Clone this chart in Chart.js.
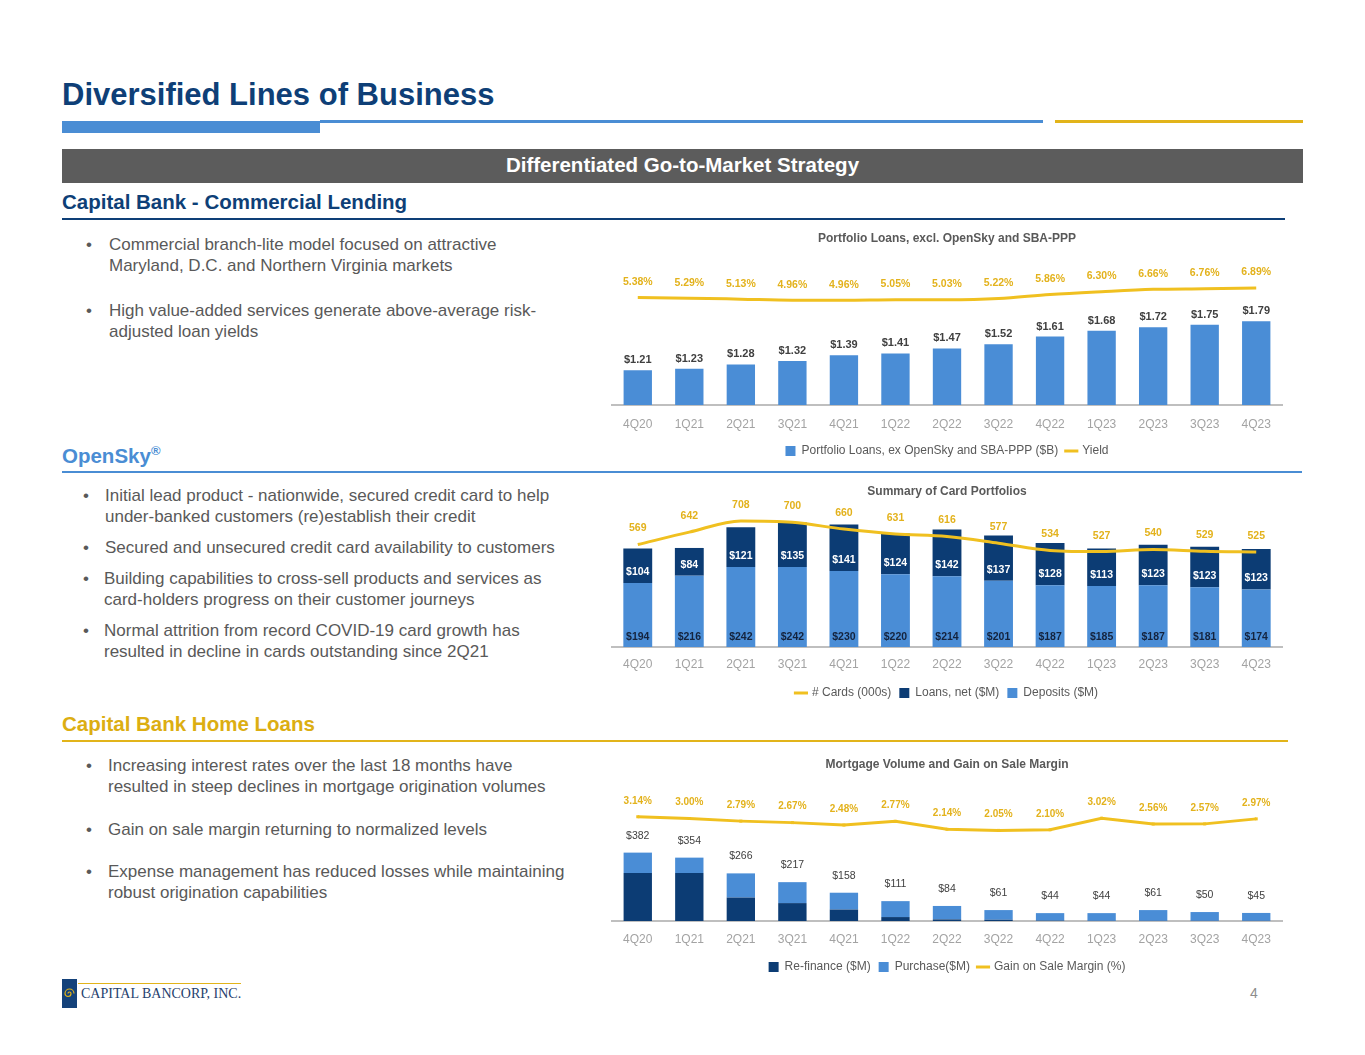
<!DOCTYPE html>
<html><head><meta charset="utf-8">
<script src="https://cdn.jsdelivr.net/npm/chart.js@4.4.1/dist/chart.umd.min.js"></script>
<style>
html,body{margin:0;padding:0;background:#fff}
body{width:1365px;height:1055px;position:relative;overflow:hidden;font-family:"Liberation Sans",Arial,sans-serif}
.a{position:absolute;white-space:nowrap}
.blk{position:absolute}
.bul{position:absolute;font-size:17px;line-height:21px;color:#595959;white-space:nowrap}
.hdr{position:absolute;font-weight:bold;font-size:20.5px;line-height:24px;white-space:nowrap}
canvas{position:absolute}
</style>
</head><body>
<div class="a" style="left:62px;top:77px;font-size:31px;line-height:36px;font-weight:bold;color:#0e3f77">Diversified Lines of Business</div>
<div class="blk" style="left:62px;top:121px;width:258px;height:12px;background:#4a8dd4"></div>
<div class="blk" style="left:320px;top:120px;width:723px;height:3px;background:#4a8dd4"></div>
<div class="blk" style="left:1055px;top:120px;width:248px;height:3px;background:#e2b41a"></div>
<div class="blk" style="left:62px;top:149px;width:1241px;height:34px;background:#5c5c5c"></div>
<div class="a" style="left:62px;width:1241px;top:153px;text-align:center;font-size:20.5px;line-height:24px;font-weight:bold;color:#fff">Differentiated Go-to-Market Strategy</div>

<div class="hdr" style="left:62px;top:190px;color:#0e3f77">Capital Bank - Commercial Lending</div>
<div class="blk" style="left:62px;top:218px;width:1223px;height:2px;background:#0e3f77"></div>
<div class="bul" style="left:86px;top:234px">•</div>
<div class="bul" style="left:109px;top:234px">Commercial branch-lite model focused on attractive<br>Maryland, D.C. and Northern Virginia markets</div>
<div class="bul" style="left:86px;top:300px">•</div>
<div class="bul" style="left:109px;top:300px">High value-added services generate above-average risk-<br>adjusted loan yields</div>

<div class="hdr" style="left:62px;top:444px;color:#4a8dd4">OpenSky<sup style="font-size:13px;vertical-align:top;line-height:14px">®</sup></div>
<div class="blk" style="left:62px;top:471px;width:1240px;height:2px;background:#4a8dd4"></div>
<div class="bul" style="left:83px;top:485px">•</div>
<div class="bul" style="left:105px;top:485px">Initial lead product - nationwide, secured credit card to help<br>under-banked customers (re)establish their credit</div>
<div class="bul" style="left:83px;top:537px">•</div>
<div class="bul" style="left:105px;top:537px">Secured and unsecured credit card availability to customers</div>
<div class="bul" style="left:83px;top:568px">•</div>
<div class="bul" style="left:104px;top:568px">Building capabilities to cross-sell products and services as<br>card-holders progress on their customer journeys</div>
<div class="bul" style="left:83px;top:620px">•</div>
<div class="bul" style="left:104px;top:620px">Normal attrition from record COVID-19 card growth has<br>resulted in decline in cards outstanding since 2Q21</div>

<div class="hdr" style="left:62px;top:712px;color:#dcae12">Capital Bank Home Loans</div>
<div class="blk" style="left:62px;top:740px;width:1226px;height:2px;background:#e2b41a"></div>
<div class="bul" style="left:86px;top:755px">•</div>
<div class="bul" style="left:108px;top:755px">Increasing interest rates over the last 18 months have<br>resulted in steep declines in mortgage origination volumes</div>
<div class="bul" style="left:86px;top:819px">•</div>
<div class="bul" style="left:108px;top:819px">Gain on sale margin returning to normalized levels</div>
<div class="bul" style="left:86px;top:861px">•</div>
<div class="bul" style="left:108px;top:861px">Expense management has reduced losses while maintaining<br>robust origination capabilities</div>

<div class="blk" style="left:62px;top:979px;width:15px;height:29px;background:#14427a"></div>
<svg class="blk" style="left:62px;top:979px" width="15" height="29" viewBox="0 0 15 29"><path d="M7.5 14.5 m-1.5 0 a1.5 1.5 0 1 1 3 0 a3 3 0 1 1 -6 0 a4.5 4.5 0 1 1 9 0" fill="none" stroke="#e2b41a" stroke-width="1.2"/></svg>
<div class="blk" style="left:78px;top:983px;width:163px;height:1px;background:#e2b41a"></div>
<div class="a" style="left:81px;top:986px;font-family:'Liberation Serif',serif;font-size:14px;line-height:16px;color:#1f3f6e">CAPITAL BANCORP, INC.</div>
<div class="a" style="left:1250px;top:985px;font-size:14px;line-height:16px;color:#8c8c8c">4</div>

<canvas id="c1" style="left:590px;top:228px;width:700px;height:240px" width="700" height="240"></canvas>
<canvas id="c2" style="left:590px;top:480px;width:700px;height:232px" width="700" height="232"></canvas>
<canvas id="c3" style="left:590px;top:752px;width:700px;height:232px" width="700" height="232"></canvas>

<script>
// ---- data ----
const quarters = ['4Q20','1Q21','2Q21','3Q21','4Q21','1Q22','2Q22','3Q22','4Q22','1Q23','2Q23','3Q23','4Q23'];
const loanBalances = [1.21,1.23,1.28,1.32,1.39,1.41,1.47,1.52,1.61,1.68,1.72,1.75,1.79];
const loanYields = [5.38,5.29,5.13,4.96,4.96,5.05,5.03,5.22,5.86,6.30,6.66,6.76,6.89];
const cardCounts = [569,642,708,700,660,631,616,577,534,527,540,529,525];
const cardLoans = [104,84,121,135,141,124,142,137,128,113,123,123,123];
const cardDeposits = [194,216,242,242,230,220,214,201,187,185,187,181,174];
const mortgageRefi = [268,268,131,100,64,22,9,7,2,1,1,1,1];
const mortgagePurchase = [114,86,135,117,94,89,75,54,42,43,60,49,44];
const mortgageTotals = [382,354,266,217,158,111,84,61,44,44,61,50,45];
const gainOnSaleMargin = [3.14,3.00,2.79,2.67,2.48,2.77,2.14,2.05,2.10,3.02,2.56,2.57,2.97];

const NAVY='#0c3c74', BLUE='#4a8dd6', GOLD='#f0c020', GOLDTXT='#e3b21c';
const FONT='"Liberation Sans", Arial, sans-serif';

function labelPlugin(cfgs){
  return {id:'vlabels',afterDatasetsDraw(chart){
    const ctx=chart.ctx;
    cfgs.forEach(c=>{
      const meta=chart.getDatasetMeta(c.ds);
      ctx.save();
      ctx.font=c.font; ctx.fillStyle=c.color; ctx.textAlign='center'; ctx.textBaseline='middle';
      meta.data.forEach((el,j)=>{
        const y = c.anchor==='base' ? el.base + c.offset : el.y + c.offset;
        ctx.fillText(c.text(j), el.x, y);
      });
      ctx.restore();
    });
  }};
}

function xAxis(pad, h){
  return {grid:{display:false,drawTicks:false},border:{display:true,color:'#bfbfbf',width:2},
    ticks:{color:'#a3a3a3',padding:pad,font:{family:FONT,size:12,lineHeight:1.2}},
    afterFit(s){ s.height=h; }};
}
function legendOpts(){
  return {position:'bottom',labels:{usePointStyle:true,boxWidth:10,boxHeight:10,padding:8,color:'#595959',
    font:{family:FONT,size:12,lineHeight:1.2},
    sort:(a,b,data)=>data.datasets[a.datasetIndex].legendRank-data.datasets[b.datasetIndex].legendRank}};
}
function titleOpts(text,pt,pb){
  return {display:true,text,color:'#595959',font:{family:FONT,size:12,weight:'bold',lineHeight:1.2},padding:{top:pt,bottom:pb}};
}
Chart.defaults.animation=false;
Chart.defaults.font.family=FONT;

new Chart(document.getElementById('c1'),{
  type:'bar',
  data:{labels:quarters,datasets:[
    {type:'line',label:'Yield',data:loanYields,yAxisID:'y2',borderColor:GOLD,backgroundColor:GOLD,borderWidth:3,
     pointRadius:0,cubicInterpolationMode:'monotone',order:0,legendRank:2,pointStyle:'line'},
    {label:'Portfolio Loans, ex OpenSky and SBA-PPP ($B)',data:loanBalances,yAxisID:'y',backgroundColor:BLUE,
     categoryPercentage:1,barPercentage:0.55,order:1,legendRank:1,pointStyle:'rect'}
  ]},
  options:{responsive:false,animation:false,layout:{padding:{left:22,right:8,top:0,bottom:1}},
    plugins:{title:titleOpts('Portfolio Loans, excl. OpenSky and SBA-PPP',3.8,11.8),legend:legendOpts(),tooltip:{enabled:false}},
    scales:{x:xAxis(12.8,32),y:{display:false,min:0.8,max:2.54},y2:{display:false,min:-11.41,max:11.56}}},
  plugins:[labelPlugin([
    {ds:1,anchor:'top',offset:-10,font:'bold 11px '+FONT,color:'#404040',text:j=>'$'+loanBalances[j].toFixed(2)},
    {ds:0,anchor:'top',offset:-15.5,font:'bold 10.5px '+FONT,color:GOLDTXT,text:j=>loanYields[j].toFixed(2)+'%'}
  ])]
});

new Chart(document.getElementById('c2'),{
  type:'bar',
  data:{labels:quarters,datasets:[
    {type:'line',label:'# Cards (000s)',data:cardCounts,yAxisID:'y2',borderColor:GOLD,backgroundColor:GOLD,borderWidth:3,
     pointRadius:0,cubicInterpolationMode:'monotone',order:0,legendRank:1,pointStyle:'line'},
    {label:'Deposits ($M)',data:cardDeposits,yAxisID:'y',backgroundColor:BLUE,stack:'s',
     categoryPercentage:1,barPercentage:0.56,order:1,legendRank:3,pointStyle:'rect'},
    {label:'Loans, net ($M)',data:cardLoans,yAxisID:'y',backgroundColor:NAVY,stack:'s',
     categoryPercentage:1,barPercentage:0.56,order:1,legendRank:2,pointStyle:'rect'}
  ]},
  options:{responsive:false,animation:false,layout:{padding:{left:22,right:8,top:0,bottom:3}},
    plugins:{title:titleOpts('Summary of Card Portfolios',4.8,10.8),legend:legendOpts(),tooltip:{enabled:false}},
    scales:{x:Object.assign(xAxis(10.8,32),{stacked:true}),y:{display:false,stacked:true,min:0,max:415},y2:{display:false,min:-36,max:772.7}}},
  plugins:[labelPlugin([
    {ds:1,anchor:'base',offset:-10,font:'bold 10.5px '+FONT,color:'#14233d',text:j=>'$'+cardDeposits[j]},
    {ds:2,anchor:'base',offset:-11,font:'bold 10.5px '+FONT,color:'#ffffff',text:j=>'$'+cardLoans[j]},
    {ds:0,anchor:'top',offset:-16,font:'bold 10.5px '+FONT,color:GOLDTXT,text:j=>String(cardCounts[j])}
  ])]
});

new Chart(document.getElementById('c3'),{
  type:'bar',
  data:{labels:quarters,datasets:[
    {type:'line',label:'Gain on Sale Margin (%)',data:gainOnSaleMargin,yAxisID:'y2',borderColor:GOLD,backgroundColor:GOLD,borderWidth:3,
     pointRadius:1.5,pointBackgroundColor:GOLD,tension:0,order:0,legendRank:3,pointStyle:'line'},
    {label:'Re-finance ($M)',data:mortgageRefi,yAxisID:'y',backgroundColor:NAVY,stack:'s',
     categoryPercentage:1,barPercentage:0.55,order:1,legendRank:1,pointStyle:'rect'},
    {label:'Purchase($M)',data:mortgagePurchase,yAxisID:'y',backgroundColor:BLUE,stack:'s',
     categoryPercentage:1,barPercentage:0.55,order:1,legendRank:2,pointStyle:'rect'}
  ]},
  options:{responsive:false,animation:false,layout:{padding:{left:22,right:8,top:0,bottom:1}},
    plugins:{title:titleOpts('Mortgage Volume and Gain on Sale Margin',5.8,9.8),legend:legendOpts(),tooltip:{enabled:false}},
    scales:{x:Object.assign(xAxis(11.8,32),{stacked:true}),y:{display:false,stacked:true,min:0,max:776.5},y2:{display:false,min:-5.2,max:5.92}}},
  plugins:[labelPlugin([
    {ds:2,anchor:'top',offset:-17,font:'10.5px '+FONT,color:'#404040',text:j=>'$'+mortgageTotals[j]},
    {ds:0,anchor:'top',offset:-16,font:'bold 10px '+FONT,color:GOLDTXT,text:j=>gainOnSaleMargin[j].toFixed(2)+'%'}
  ])]
});
</script>
</body></html>
